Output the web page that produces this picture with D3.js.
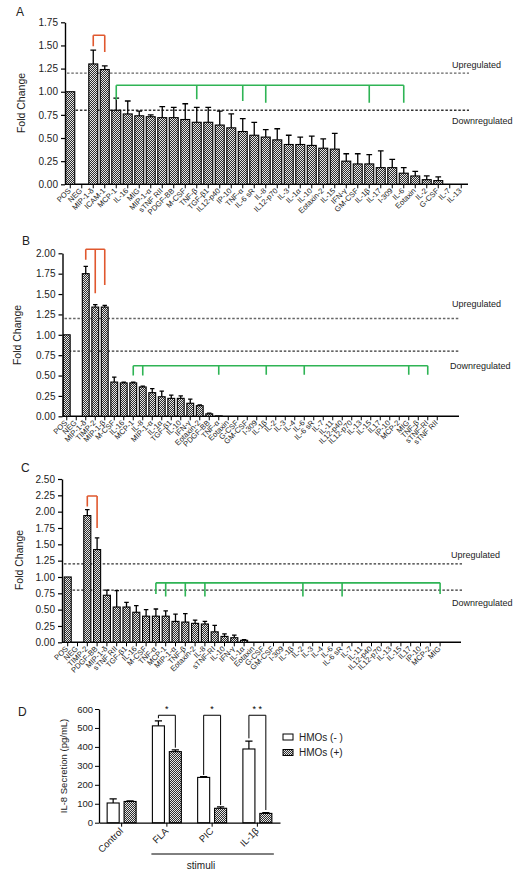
<!DOCTYPE html>
<html><head><meta charset="utf-8">
<script src="https://cdn.jsdelivr.net/npm/d3@7"></script>
<style>body{margin:0;background:#fff}text{font-family:"Liberation Sans",Arial,sans-serif}</style>
</head><body><svg id="c" width="523" height="875"></svg>
<script>
// ---------- Panel A ----------
const catsA = ["POS","NEG","MIP-1-δ","ICAM-1","MCP-1","IL-16","MIG","MIP-1-α","sTNF RII","PDGF-BB","M-CSF","TNF-β","TGF-β1","IL12-p40","IP-10","TNF-α","IL-6 sR","IL-8","IL12-p70","IL-3","IL-1α","IL-10","Eotaxin-2","IL-15","IFN-γ","GM-CSF","IL-1β","IL-17","I-309","IL-6","Eotaxin","IL-2","G-CSF","IL-7","IL-13"];
const valsA = [1.00,0,1.30,1.24,0.80,0.76,0.74,0.73,0.72,0.72,0.70,0.67,0.67,0.64,0.61,0.57,0.53,0.51,0.48,0.43,0.43,0.42,0.39,0.38,0.25,0.22,0.22,0.18,0.18,0.12,0.09,0.05,0.04,0,0];
const errA  = [0,0,0.15,0.04,0.13,0.14,0.05,0.02,0.12,0.11,0.17,0.16,0.16,0.15,0.15,0.14,0.14,0.08,0.12,0.10,0.08,0.10,0.10,0.17,0.08,0.11,0.10,0.18,0.09,0.06,0.05,0.04,0.04,0,0];
const bracketsA = [
  {kind:"up", top:1.61, legs:[["MIP-1-δ",1.49],["ICAM-1",1.43]]},
  {kind:"down", top:1.07, legs:[["MCP-1",0.91],["TNF-β",0.92],["TNF-α",0.90],["IL-8",0.88],["IL-1β",0.88],["IL-6",0.88]]}
];
// ---------- Panel B ----------
const catsB = ["POS","NEG","MIP-1-δ","TIMP-2","MIP-1-β","M-CSF","IL-16","MCP-1","IL-8","MIP-1-α","IL-1α","TGF-β1","IL-10","IFN-γ","Eotaxin-2","PDGF-BB","TNF-α","Eotaxin","G-CSF","GM-CSF","I-309","IL-1β","IL-2","IL-3","IL-4","IL-6","IL-6 sR","IL-7","IL-11","IL12-p40","IL12-p70","IL-13","IL-15","IL17","IP-10","MCP-2","MIG","TNF-β","sTNF-RI","sTNF RII"];
const valsB = [1.00,0,1.75,1.34,1.34,0.42,0.41,0.41,0.36,0.29,0.24,0.22,0.22,0.16,0.13,0.03,0.005,0,0,0,0,0,0,0,0,0,0,0,0,0,0,0,0,0,0,0,0,0,0,0];
const errB  = [0,0,0.09,0.03,0.02,0.06,0.01,0.01,0.01,0.05,0.07,0.04,0.03,0.05,0.01,0.01,0,0,0,0,0,0,0,0,0,0,0,0,0,0,0,0,0,0,0,0,0,0,0,0];
const bracketsB = [
  {kind:"up", top:2.05, legs:[["MIP-1-δ",1.92],["TIMP-2",1.51],["MIP-1-β",1.61]]},
  {kind:"down", top:0.62, legs:[["MCP-1",0.50],["IL-8",0.50],["TNF-α",0.51],["IL-1β",0.51],["IL-6",0.51],["MIG",0.51],["sTNF-RI",0.51]]}
];
// ---------- Panel C ----------
const catsC = ["POS","NEG","TIMP-2","PDGF-BB","MIP-1-δ","sTNF RII","TGF-β1","IL-16","M-CSF","TNF-α","MCP-1","MIP-1-α","TNF-β","Eotaxin-2","IL-8","sTNF-RI","IL-10","IFN-γ","IL-1α","Eotaxin","G-CSF","GM-CSF","I-309","IL-1β","IL-2","IL-3","IL-4","IL-6","IL-6 sR","IL-7","IL-11","IL12-p40","IL12-p70","IL-13","IL-15","IL17","IP-10","MCP-2","MIG"];
const valsC = [1.00,0,1.94,1.42,0.72,0.54,0.54,0.46,0.40,0.40,0.40,0.32,0.31,0.29,0.28,0.16,0.09,0.07,0.03,0,0,0,0,0,0,0,0,0,0,0,0,0,0,0,0,0,0,0,0];
const errC  = [0,0,0.09,0.18,0.08,0.25,0.07,0.10,0.10,0.11,0.08,0.11,0.13,0.05,0.04,0.10,0.04,0.04,0.01,0,0,0,0,0,0,0,0,0,0,0,0,0,0,0,0,0,0,0,0];
const bracketsC = [
  {kind:"up", top:2.24, legs:[["TIMP-2",2.08],["PDGF-BB",1.75]]},
  {kind:"down", top:0.91, legs:[["TNF-α",0.74],["MCP-1",0.70],["TNF-β",0.70],["IL-8",0.70],["IL-2",0.70],["IL-6 sR",0.70],["MIG",0.74]]}
];
const thresholds = [1.2, 0.8];
// ---------- Panel D ----------
const groupsD = ["Control","FLA","PIC","IL-1β"];
const seriesD = ["HMOs (- )","HMOs (+)"];
const meanNeg = [104,511,239,389];
const sdNeg   = [22,26,4,42];
const meanPos = [112,375,76,49];
const sdPos   = [3,9,8,4];
const yTicksD = [0,100,200,300,400,500,600];
const sigD = [
  {group:"FLA", label:"*", top:567, left:551, right:396},
  {group:"PIC", label:"*", top:567, left:252, right:93},
  {group:"IL-1β", label:"* *", top:567, left:445, right:67}
];

const svg = d3.select("#c");
svg.append("rect").attr("width",523).attr("height",875).attr("fill","#fff");
const defs = svg.append("defs");
const pat = defs.append("pattern").attr("id","chk").attr("width",2).attr("height",2).attr("patternUnits","userSpaceOnUse");
pat.append("rect").attr("width",2).attr("height",2).attr("fill","#2e2e2e");
pat.append("rect").attr("width",1).attr("height",1).attr("fill","#e6e6e6");
pat.append("rect").attr("x",1).attr("y",1).attr("width",1).attr("height",1).attr("fill","#e6e6e6");

const COL = {up:"#e0582e", down:"#2fb455"};

function foldPanel(o){
  const g = svg.append("g");
  const x = d3.scaleBand().domain(o.cats).range(o.xr).paddingInner(o.pad).paddingOuter(o.pad/2);
  const y = d3.scaleLinear().domain([0,o.yMax]).range([o.y0,o.y1]);
  // y axis
  const ya = g.append("g").attr("transform",`translate(${o.ax},0)`)
    .call(d3.axisLeft(y).tickValues(d3.range(0,o.yMax+0.001,0.25)).tickFormat(d3.format(".2f")).tickSize(4).tickSizeOuter(0));
  ya.select(".domain").attr("stroke","#000").attr("stroke-width",1.4);
  ya.selectAll(".tick line").attr("stroke","#000").attr("stroke-width",1.2);
  ya.selectAll("text").attr("font-size",10).attr("fill","#222").attr("x",-7);
  // x axis
  const xa = g.append("g").attr("transform",`translate(0,${o.y0})`)
    .call(d3.axisBottom(x).tickSize(4).tickSizeOuter(0));
  xa.select(".domain").remove();
  xa.selectAll(".tick line").attr("stroke","#000").attr("stroke-width",1);
  xa.selectAll("text").attr("font-size",7.6).attr("fill","#222")
    .attr("text-anchor","end").attr("y",0).attr("x",0).attr("dy",0)
    .attr("transform","translate(1,7) rotate(-45)");
  g.append("line").attr("x1",o.ax).attr("x2",o.xEnd).attr("y1",o.y0).attr("y2",o.y0).attr("stroke","#000").attr("stroke-width",1.4);
  // threshold lines
  thresholds.forEach((t,i)=>{
    g.append("line").attr("x1",o.ax+2).attr("x2",o.xEnd+1).attr("y1",y(t)).attr("y2",y(t))
      .attr("stroke", i===0 && o.lightUp ? "#666" : "#333").attr("stroke-width",1.3).attr("stroke-dasharray","2.5,1.8");
  });
  g.append("text").attr("x",o.lab1[0]).attr("y",o.lab1[1]).attr("font-size",9).attr("fill","#222").text("Upregulated");
  g.append("text").attr("x",o.lab2[0]).attr("y",o.lab2[1]).attr("font-size",9).attr("fill","#222").text("Downregulated");
  const bw = x.bandwidth();
  // bars
  g.selectAll(".bar").data(o.cats.map((c,i)=>({c,v:o.vals[i],e:o.errs[i]}))).enter().append("rect")
    .attr("x",d=>x(d.c)).attr("width",bw).attr("y",d=>y(d.v)).attr("height",d=>y(0)-y(d.v))
    .attr("fill","url(#chk)").attr("stroke","#000").attr("stroke-width",d=>d.v>0?1.1:0);
  // error bars
  const eb = o.cats.map((c,i)=>({c,v:o.vals[i],e:o.errs[i]})).filter(d=>d.e>0);
  g.selectAll(".eb").data(eb).enter().append("path")
    .attr("d",d=>{const cx=x(d.c)+bw/2, yt=y(d.v+d.e); return `M${cx},${y(d.v)}V${yt}M${cx-bw*0.32},${yt}H${cx+bw*0.32}`;})
    .attr("stroke","#000").attr("stroke-width",1.3).attr("fill","none");
  // brackets
  o.br.forEach(b=>{
    const xs = b.legs.map(l=>x(l[0])+bw/2);
    let p = `M${d3.min(xs)},${y(b.top)}H${d3.max(xs)}`;
    b.legs.forEach((l,i)=>{p += `M${xs[i]},${y(b.top)}V${y(l[1])}`;});
    g.append("path").attr("d",p).attr("stroke",COL[b.kind]).attr("stroke-width",1.6).attr("fill","none");
  });
  g.append("text").attr("transform",`translate(${o.ylab[0]},${o.ylab[1]}) rotate(-90)`).attr("text-anchor","middle")
    .attr("font-size",10.5).attr("fill","#222").text("Fold Change");
  g.append("text").attr("x",o.letter[0]).attr("y",o.letter[1]).attr("font-size",12).attr("fill","#222").text(o.L);
}

foldPanel({L:"A",cats:catsA,vals:valsA,errs:errA,br:bracketsA,yMax:1.75,xr:[64.5,467],pad:0.22,ax:65,xEnd:468,y0:184.3,y1:22.3,
  lab1:[452,68],lab2:[452,124],ylab:[25,103],letter:[16,16],lightUp:true});
foldPanel({L:"B",cats:catsB,vals:valsB,errs:errB,br:bracketsB,yMax:2.0,xr:[62,442],pad:0.28,ax:62.5,xEnd:459,y0:416.3,y1:253.3,
  lab1:[452,307],lab2:[450,369],ylab:[21,335],letter:[22,245],lightUp:true});
foldPanel({L:"C",cats:catsC,vals:valsC,errs:errC,br:bracketsC,yMax:2.5,xr:[62.8,445],pad:0.28,ax:62,xEnd:461,y0:642.3,y1:479,
  lab1:[451,558],lab2:[452,606],ylab:[23,560],letter:[21,472],lightUp:false});

// ---------- Panel D drawing ----------
(function(){
  const g = svg.append("g");
  const y = d3.scaleLinear().domain([0,600]).range([822.7,709]);
  const x = d3.scaleBand().domain(groupsD).range([99,280]).paddingInner(0.36).paddingOuter(0.18);
  const xi = d3.scaleBand().domain(seriesD).range([0,x.bandwidth()]).paddingInner(0.29);
  const ya = g.append("g").attr("transform","translate(99,0)").call(d3.axisLeft(y).tickValues(yTicksD).tickSize(4).tickSizeOuter(0));
  ya.select(".domain").attr("stroke","#000").attr("stroke-width",1.3);
  ya.selectAll("text").attr("font-size",9.5).attr("fill","#222").attr("x",-6);
  const xa = g.append("g").attr("transform","translate(0,822.7)").call(d3.axisBottom(x).tickSize(4).tickSizeOuter(0));
  xa.select(".domain").attr("stroke","#000").attr("stroke-width",1.3);
  xa.selectAll("text").attr("font-size",9.5).attr("fill","#222").attr("text-anchor","end").attr("y",0).attr("x",0).attr("dy",0)
    .attr("transform","translate(2,9) rotate(-45)");
  const data = [];
  groupsD.forEach((gr,i)=>{
    data.push({g:gr,s:seriesD[0],v:meanNeg[i],e:sdNeg[i]});
    data.push({g:gr,s:seriesD[1],v:meanPos[i],e:sdPos[i]});
  });
  const bw = xi.bandwidth();
  g.selectAll(".b").data(data).enter().append("rect")
    .attr("x",d=>x(d.g)+xi(d.s)).attr("width",bw).attr("y",d=>y(d.v)).attr("height",d=>y(0)-y(d.v))
    .attr("fill",d=>d.s===seriesD[0]?"#fff":"url(#chk)").attr("stroke","#000").attr("stroke-width",1.1);
  g.selectAll(".e").data(data).enter().append("path")
    .attr("d",d=>{const cx=x(d.g)+xi(d.s)+bw/2, yt=y(d.v+d.e); return `M${cx},${y(d.v)}V${yt}M${cx-bw*0.3},${yt}H${cx+bw*0.3}`;})
    .attr("stroke","#000").attr("stroke-width",1.2);
  sigD.forEach(s=>{
    const xl = x(s.group)+xi(seriesD[0])+bw/2, xr = x(s.group)+xi(seriesD[1])+bw/2;
    g.append("path").attr("d",`M${xl},${y(s.left)}V${y(s.top)}H${xr}V${y(s.right)}`).attr("stroke","#000").attr("stroke-width",1).attr("fill","none");
    g.append("text").attr("x",(xl+xr)/2).attr("y",y(s.top)-3).attr("text-anchor","middle").attr("font-size",9).text(s.label);
  });
  // stimuli line
  g.append("line").attr("x1",x("FLA")-1).attr("x2",x("IL-1β")+x.bandwidth()+2).attr("y1",854).attr("y2",854).attr("stroke","#000").attr("stroke-width",1);
  g.append("text").attr("x",201).attr("y",869).attr("text-anchor","middle").attr("font-size",10).attr("fill","#222").text("stimuli");
  g.append("text").attr("transform","translate(67,766) rotate(-90)").attr("text-anchor","middle").attr("font-size",9.5).attr("fill","#222").text("IL-8 Secretion (pg/mL)");
  // legend
  seriesD.forEach((s,i)=>{
    g.append("rect").attr("x",283).attr("y",734+i*15.5).attr("width",10).attr("height",6)
      .attr("fill",i===0?"#fff":"url(#chk)").attr("stroke","#000").attr("stroke-width",1);
    g.append("text").attr("x",299).attr("y",740.5+i*15.5).attr("font-size",10).attr("fill","#222").text(s);
  });
  g.append("text").attr("x",18).attr("y",716).attr("font-size",12).attr("fill","#222").text("D");
})();
</script></body></html>
